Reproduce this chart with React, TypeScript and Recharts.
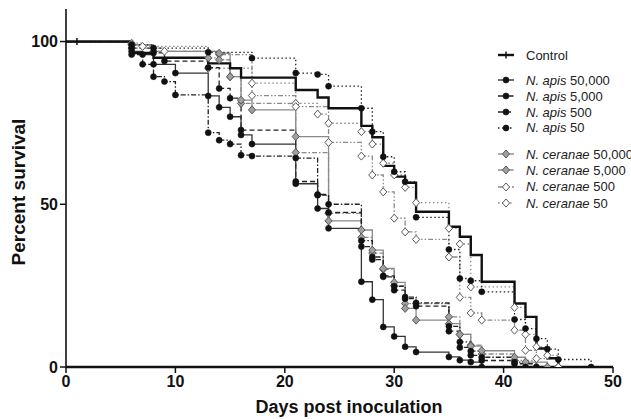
import React from "react";
import { LineChart, Line, XAxis, YAxis } from "recharts";

// ---- axis ticks ----
const xTicks = [0, 10, 20, 30, 40, 50];
const yTicks = [0, 50, 100];

// ---- series data (days post inoculation, percent survival) ----
const controlDays = [0, 1, 6, 8, 13, 15, 16, 21, 23, 24, 27, 28, 29, 30, 31, 32, 35, 36, 37, 38, 41, 42, 43, 44, 45];
const controlValues = [100, 100, 96.5, 95, 93.3, 91.8, 88.9, 85.1, 82.8, 79.5, 74.1, 70.6, 61.8, 58.5, 56.6, 47.7, 43.1, 40, 34.4, 26.2, 19.5, 15.4, 5.7, 2.7, 0];

const apis50000Days = [0, 6, 7, 8, 10, 13, 14, 15, 16, 17, 21, 23, 24, 27, 28, 29, 30, 31, 32, 35, 36, 37, 38];
const apis50000Values = [100, 97, 96, 93, 90.3, 83.3, 79.8, 76.9, 71.3, 68.5, 56.3, 48.7, 42.6, 26.2, 20.7, 12.3, 9.4, 6.2, 4.6, 3.1, 2.1, 1.5, 0];

const apis5000Days = [0, 6, 7, 8, 9, 10, 13, 14, 15, 16, 17, 21, 23, 24, 27, 28, 29, 30, 31, 32, 35, 36, 37, 38, 41, 42];
const apis5000Values = [100, 96, 93, 89.2, 87.7, 83.6, 72, 69.7, 68.5, 65.1, 64.8, 64.2, 52.8, 50, 38.8, 33.8, 27.7, 24.8, 21.5, 19.7, 12.5, 7.7, 4.9, 3, 1.5, 0];

const apis500Days = [0, 6, 8, 9, 13, 14, 15, 16, 21, 23, 24, 27, 28, 29, 30, 31, 32, 35, 36, 37, 38, 41, 43];
const apis500Values = [100, 98, 96.5, 94, 92, 85.6, 82.6, 72.8, 57, 53, 47.5, 37, 33, 28, 23.6, 21, 18.7, 11, 6, 3.6, 2, 1, 0];

const apis50Days = [0, 6, 8, 13, 17, 21, 23, 24, 27, 28, 29, 30, 31, 32, 35, 36, 37, 38, 41, 42, 43, 44, 45, 48];
const apis50Values = [100, 99, 98, 96.7, 94.9, 90.3, 89.9, 86.3, 79.5, 72.3, 64.6, 60, 56.9, 46, 36.1, 27.2, 26.5, 23.1, 14.6, 11.8, 8.7, 5.5, 2.3, 0];

const ceranae50000Days = [0, 6, 8, 14, 15, 16, 17, 21, 24, 27, 28, 29, 30, 31, 32, 35, 36, 37, 38, 41, 42, 44];
const ceranae50000Values = [100, 99, 97, 96.4, 89.2, 82, 79, 70.8, 44.9, 42.1, 35.9, 30.3, 26, 18, 14.4, 13.3, 10, 6.4, 5, 3, 1.5, 0];

const ceranae5000Days = [0, 6, 8, 13, 14, 15, 16, 21, 24, 27, 28, 29, 30, 31, 32, 35, 36, 37, 38, 41, 43];
const ceranae5000Values = [100, 99, 97, 95, 94.4, 89.2, 81, 65.9, 47.2, 39.8, 35, 30, 25, 19.5, 19.5, 15.4, 10, 6.7, 4, 2, 0];

const ceranae500Days = [0, 6, 9, 14, 17, 21, 24, 27, 28, 29, 30, 31, 32, 35, 36, 37, 38, 41, 42, 43, 45];
const ceranae500Values = [100, 98, 97, 96, 83.4, 80, 69, 64.8, 59, 53.8, 45.7, 41.5, 39.2, 33.8, 21.4, 16.6, 14.4, 11.3, 5.1, 2.6, 0];

const ceranae50Days = [0, 6, 7, 13, 17, 21, 23, 24, 27, 28, 29, 30, 31, 32, 35, 36, 37, 41, 42, 43, 44, 45];
const ceranae50Values = [100, 99.5, 98.5, 91.8, 87.2, 81, 77.7, 74.9, 72.3, 68.5, 62.6, 59, 55.2, 50.5, 42.6, 37.8, 24.6, 18.3, 10, 6.2, 3.6, 0];

type Marker = "tick" | "circle" | "diamond";
interface Series {
  key: string;
  label: [string, string];
  days: number[];
  values: number[];
  stroke: string;
  width: number;
  dash?: string;
  marker: Marker;
  fill: string;
}

const BLACK = "#111";
const GRAY = "#8a8a8a";

const series: Series[] = [
  { key: "control", label: ["", "Control"], days: controlDays, values: controlValues, stroke: BLACK, width: 2.4, marker: "tick", fill: BLACK },
  { key: "a50000", label: ["N. apis", " 50,000"], days: apis50000Days, values: apis50000Values, stroke: "#333", width: 1.3, marker: "circle", fill: BLACK },
  { key: "a5000", label: ["N. apis", " 5,000"], days: apis5000Days, values: apis5000Values, stroke: "#222", width: 1.3, dash: "5 2 1.5 2", marker: "circle", fill: BLACK },
  { key: "a500", label: ["N. apis", " 500"], days: apis500Days, values: apis500Values, stroke: "#222", width: 1.3, dash: "5 3", marker: "circle", fill: BLACK },
  { key: "a50", label: ["N. apis", " 50"], days: apis50Days, values: apis50Values, stroke: "#222", width: 1.3, dash: "1.5 2.5", marker: "circle", fill: BLACK },
  { key: "c50000", label: ["N. ceranae", " 50,000"], days: ceranae50000Days, values: ceranae50000Values, stroke: GRAY, width: 1.3, marker: "diamond", fill: "#a0a0a0" },
  { key: "c5000", label: ["N. ceranae", " 5,000"], days: ceranae5000Days, values: ceranae5000Values, stroke: GRAY, width: 1.3, dash: "5 2 1.5 2", marker: "diamond", fill: "#a0a0a0" },
  { key: "c500", label: ["N. ceranae", " 500"], days: ceranae500Days, values: ceranae500Values, stroke: GRAY, width: 1.3, dash: "5 2 1.5 2 1.5 2", marker: "diamond", fill: "#fff" },
  { key: "c50", label: ["N. ceranae", " 50"], days: ceranae50Days, values: ceranae50Values, stroke: GRAY, width: 1.3, dash: "1.5 2.5", marker: "diamond", fill: "#fff" },
];

const FONT = "'Liberation Sans', Arial, Helvetica, sans-serif";

function drawMarker(m: Marker, cx: number, cy: number, fill: string, key: string) {
  if (m === "circle") return <circle key={key} cx={cx} cy={cy} r={3} fill={fill} stroke={fill} strokeWidth={0.6} />;
  if (m === "diamond")
    return (
      <polygon
        key={key}
        points={`${cx},${cy - 4} ${cx + 3.6},${cy} ${cx},${cy + 4} ${cx - 3.6},${cy}`}
        fill={fill}
        stroke="#5a5a5a"
        strokeWidth={1}
      />
    );
  return <line key={key} x1={cx} y1={cy - 3.5} x2={cx} y2={cy + 3.5} stroke={fill} strokeWidth={1.5} />;
}

function makeDot(s: Series) {
  return (props: any) => {
    const { cx, cy, index } = props;
    const k = `${s.key}-${index}`;
    if (index === 0 || cx == null || cy == null) return <g key={k} />;
    if (s.marker === "tick" && index !== 1) return <g key={k} />;
    return drawMarker(s.marker, cx, cy, s.fill, k);
  };
}

const legendRows = [55, 80, 96, 112, 127.5, 154, 170, 186.5, 203];

function LegendOverlay() {
  return (
    <div style={{ position: "absolute", left: 0, top: 0, width: 631, height: 419, pointerEvents: "none", overflow: "hidden" }}>
      {series.map((s, i) => {
        const y = legendRows[i];
        return (
          <div key={s.key} style={{ position: "absolute", left: 495, top: y - 9, height: 18, width: 140, display: "flex", alignItems: "center", whiteSpace: "nowrap" }}>
            <svg width={24} height={18} style={{ flex: "none" }}>
              <line x1={3} y1={9} x2={19} y2={9} stroke={s.stroke} strokeWidth={s.key === "control" ? 2.4 : 1.4} strokeDasharray={s.dash} />
              {drawMarker(s.marker, 11, 9, s.fill, "m")}
            </svg>
            <span style={{ marginLeft: 7, fontFamily: FONT, fontSize: 13, color: "#222" }}>
              {s.label[0] ? <i>{s.label[0]}</i> : null}
              {s.label[1]}
            </span>
          </div>
        );
      })}
    </div>
  );
}

export default function App() {
  return (
    <div style={{ position: "absolute", left: 0, top: 0, width: 631, height: 419, background: "#fff", overflow: "hidden" }}>
      <LineChart width={631} height={419} margin={{ top: 9, right: 18, bottom: 0, left: 0 }}>
        <XAxis
          dataKey="x"
          type="number"
          domain={[0, 50]}
          ticks={xTicks}
          allowDataOverflow
          height={52}
          tickSize={6}
          tickMargin={3}
          axisLine={{ stroke: "#111", strokeWidth: 2.6 }}
          tickLine={{ stroke: "#111", strokeWidth: 1.5 }}
          tick={{ fill: "#111", fontFamily: FONT, fontSize: 16, fontWeight: "bold" }}
          label={(p: any) => (
            <text x={349} y={413} textAnchor="middle" fontFamily={FONT} fontSize={18} fontWeight="bold" fill="#111">
              Days post inoculation
            </text>
          )}
        />
        <YAxis
          dataKey="y"
          type="number"
          domain={[0, 110]}
          ticks={yTicks}
          allowDataOverflow
          width={66}
          tickSize={6}
          tickMargin={2}
          axisLine={{ stroke: "#111", strokeWidth: 1.6 }}
          tickLine={{ stroke: "#111", strokeWidth: 1.5 }}
          tick={{ fill: "#111", fontFamily: FONT, fontSize: 16, fontWeight: "bold" }}
          label={(p: any) => (
            <text x={25} y={192} transform="rotate(-90 25 192)" textAnchor="middle" fontFamily={FONT} fontSize={19} fontWeight="bold" fill="#111">
              Percent survival
            </text>
          )}
        />
        {series
          .slice()
          .reverse()
          .map((s) => (
            <Line
              key={s.key}
              data={s.days.map((d, i) => ({ x: d, y: s.values[i] }))}
              dataKey="y"
              type="stepAfter"
              stroke={s.stroke}
              strokeWidth={s.width}
              strokeDasharray={s.dash}
              dot={makeDot(s)}
              activeDot={false}
              isAnimationActive={false}
            />
          ))}
      </LineChart>
      <LegendOverlay />
    </div>
  );
}
